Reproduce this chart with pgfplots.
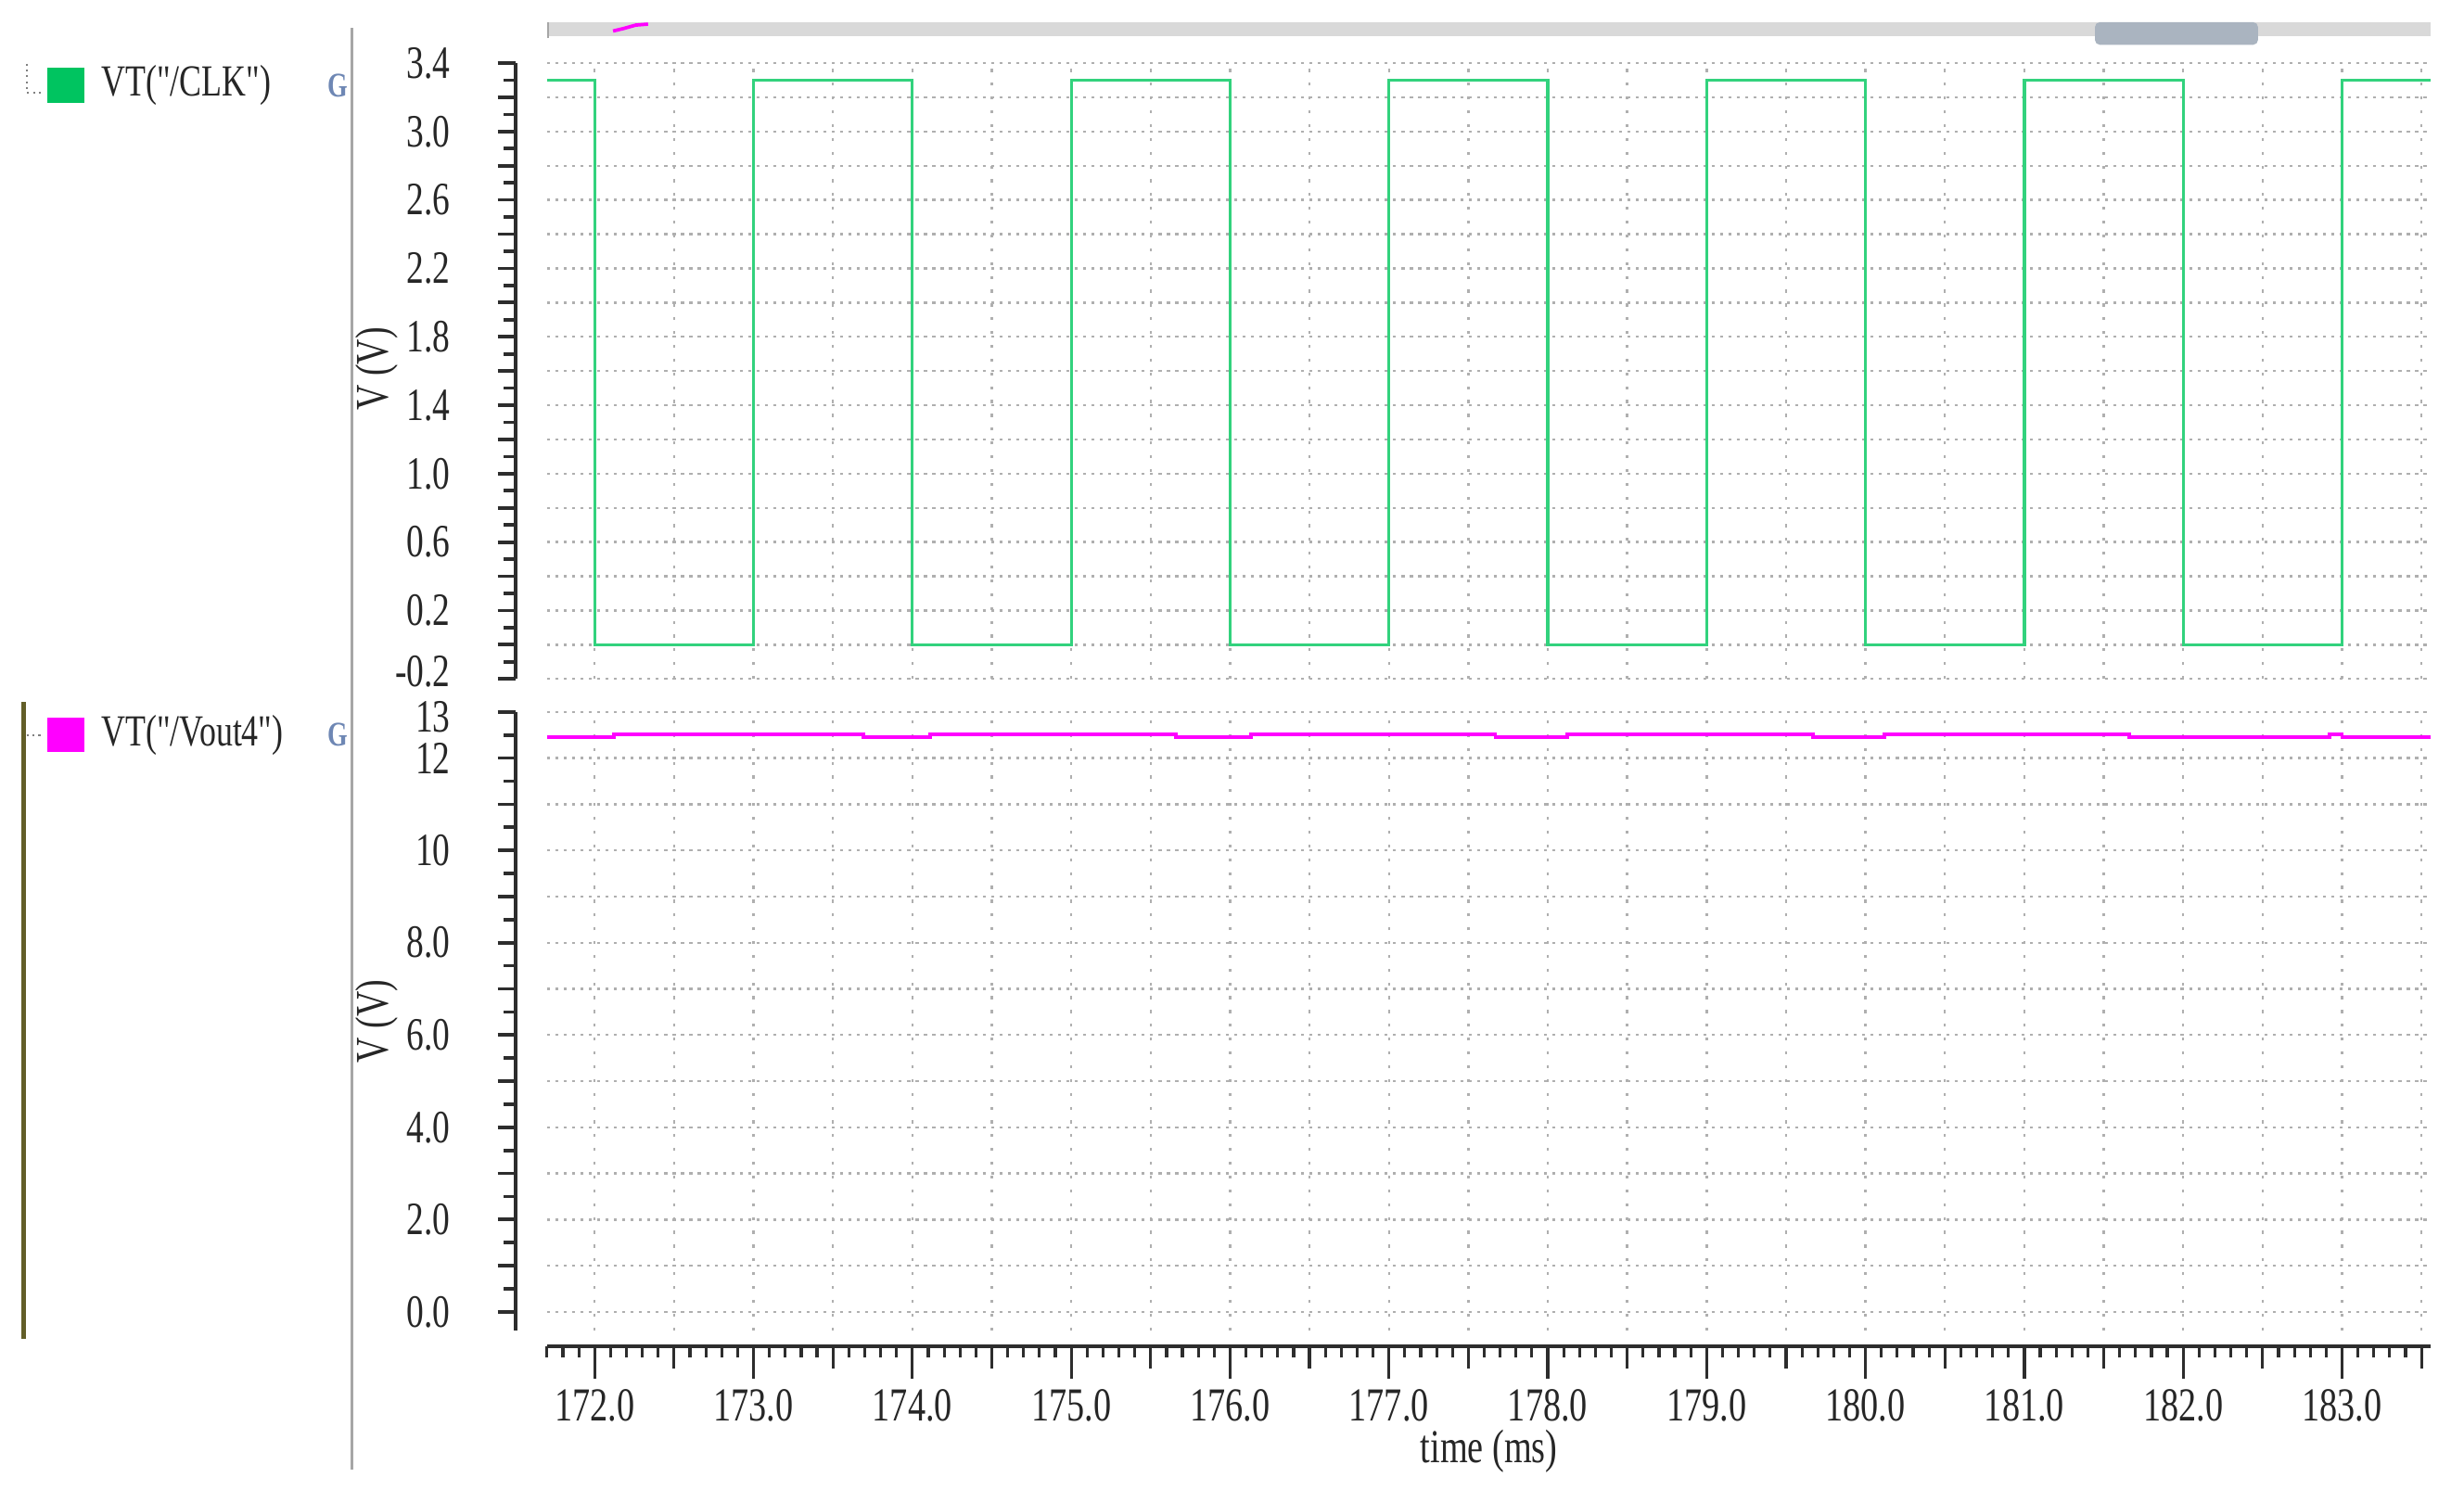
\documentclass[border=0pt]{standalone}
\usepackage{fontspec}
\setmainfont{Liberation Serif}[FakeStretch=0.75, Ligatures=TeXOff]
\usepackage{pgfplots}
\pgfplotsset{compat=1.18}
\definecolor{clkgreen}{RGB}{50,210,125}
\definecolor{clksq}{RGB}{0,196,96}
\definecolor{vmag}{RGB}{255,0,255}
\definecolor{gridgray}{RGB}{175,175,175}
\definecolor{axdark}{RGB}{45,45,45}
\definecolor{handle}{RGB}{170,180,192}
\definecolor{iconblue}{RGB}{110,135,180}
\pgfplotsset{
  dataax/.style={scale only axis, width=382.3pt, xmin=171.70, xmax=183.56,
    axis line style={draw=none}, major tick length=0pt, minor tick length=0pt,
    xticklabels={}, yticklabels={}, grid=major,
    x grid style={gridgray, line width=0.45pt, dash pattern=on 0.6pt off 2.2pt},
    y grid style={gridgray, line width=0.45pt, dash pattern=on 0.6pt off 1.1pt},
    xtick={172,172.5,173,173.5,174,174.5,175,175.5,176,176.5,177,177.5,178,178.5,179,179.5,180,180.5,181,181.5,182,182.5,183,183.5}},
  rulerax/.style={scale only axis, width=1pt, xmin=0, xmax=1,
    axis x line=none, axis y line=left, y axis line style={-, line width=0.7pt, draw=axdark},
    tick align=outside, major tick length=3.6pt, minor tick length=2.4pt,
    tick style={line width=0.7pt, draw=axdark},
    yticklabel style={font=\fontsize{9.4}{11}\selectfont, text=black!85, inner sep=0.6pt, xshift=-8.8pt}},
}
\begin{document}
\begin{tikzpicture}
\useasboundingbox (0,0) rectangle (500pt,302.3pt);

% top data panel
\begin{axis}[dataax, at={(111pt,164.5pt)}, anchor=south west, height=125pt,
  ymin=-0.2, ymax=3.4,
  ytick={-0.2,0,0.2,0.4,0.6,0.8,1.0,1.2,1.4,1.6,1.8,2.0,2.2,2.4,2.6,2.8,3.0,3.2,3.4}]
\addplot[clkgreen, line width=0.6pt] coordinates {
(171.70,3.3) (172,3.3) (172,0) (173,0) (173,3.3) (174,3.3) (174,0) (175,0) (175,3.3)
(176,3.3) (176,0) (177,0) (177,3.3) (178,3.3) (178,0) (179,0) (179,3.3) (180,3.3)
(180,0) (181,0) (181,3.3) (182,3.3) (182,0) (183,0) (183,3.3) (183.56,3.3)};
\end{axis}

% top ruler
\begin{axis}[rulerax, at={(104.6pt,164.5pt)}, anchor=south west, height=125pt,
  ymin=-0.2, ymax=3.4,
  ytick={-0.2,0,0.2,0.4,0.6,0.8,1.0,1.2,1.4,1.6,1.8,2.0,2.2,2.4,2.6,2.8,3.0,3.2,3.4},
  yticklabels={\raisebox{1.5pt}[\height][0pt]{-0.2},,0.2,,0.6,,1.0,,1.4,,1.8,,2.2,,2.6,,3.0,,3.4},
  minor ytick={-0.1,0.1,0.3,0.5,0.7,0.9,1.1,1.3,1.5,1.7,1.9,2.1,2.3,2.5,2.7,2.9,3.1,3.3}]
\end{axis}

% bottom data panel
\begin{axis}[dataax, at={(111pt,32.3pt)}, anchor=south west, height=125.5pt,
  ymin=-0.4, ymax=13, ytick={0,1,2,3,4,5,6,7,8,9,10,11,12,13}]
\addplot[vmag, line width=0.75pt] coordinates {
(171.70,12.46) (172.12,12.46) (172.12,12.52) (173.69,12.52) (173.69,12.46)
(174.11,12.46) (174.11,12.52) (175.66,12.52) (175.66,12.46) (176.13,12.46)
(176.13,12.52) (177.67,12.52) (177.67,12.46) (178.12,12.46) (178.12,12.52)
(179.67,12.52) (179.67,12.46) (180.12,12.46) (180.12,12.52) (181.66,12.52)
(181.66,12.46) (182.92,12.46) (182.92,12.52) (183.0,12.52) (183.0,12.46) (183.56,12.46)};
\end{axis}

% bottom ruler
\begin{axis}[rulerax, at={(104.6pt,32.3pt)}, anchor=south west, height=125.5pt,
  ymin=-0.4, ymax=13,
  ytick={0,1,2,3,4,5,6,7,8,9,10,11,12,13},
  yticklabels={0.0,,2.0,,4.0,,6.0,,8.0,,10,,12,\raisebox{-1pt}[\height][0pt]{13}},
  minor ytick={0.5,1.5,2.5,3.5,4.5,5.5,6.5,7.5,8.5,9.5,10.5,11.5,12.5}]
\end{axis}

% x ruler
\begin{axis}[scale only axis, width=382.3pt, height=1pt, at={(111pt,29pt)}, anchor=south west,
  xmin=171.70, xmax=183.56, ymin=0, ymax=1,
  axis y line=none, axis x line=bottom, x axis line style={-, line width=0.8pt, draw=axdark},
  tick align=outside, major tick length=6.5pt, minor tick length=2.2pt,
  tick style={line width=0.6pt, draw=axdark},
  xtick={172,173,174,175,176,177,178,179,180,181,182,183},
  xticklabels={172.0,173.0,174.0,175.0,176.0,177.0,178.0,179.0,180.0,181.0,182.0,183.0},
  minor xtick={171.7,171.8,...,183.55},
  extra x ticks={172.5,173.5,174.5,175.5,176.5,177.5,178.5,179.5,180.5,181.5,182.5,183.5},
  extra x tick labels={},
  extra x tick style={major tick length=4.5pt},
  xticklabel style={font=\fontsize{9.6}{11}\selectfont, text=black!85, yshift=1.3pt},
  xlabel={time (ms)},
  xlabel style={font=\fontsize{9.6}{11}\selectfont, text=black!85,
    at={(axis description cs:0.5,0)}, anchor=center, yshift=-21.3pt}]
\end{axis}

% y labels
\node[rotate=90, font=\fontsize{9.5}{11}\selectfont, text=black!85] at (76.5pt,227.4pt) {V (V)};
\node[rotate=90, font=\fontsize{9.5}{11}\selectfont, text=black!85] at (76.5pt,95.0pt) {V (V)};

% legend panel decorations
\draw[gray!70, line width=0.6pt] (71.4pt,4.1pt) -- (71.4pt,296.6pt);
\draw[olive!60!black, line width=1pt] (4.8pt,30.6pt) -- (4.8pt,159.8pt);
\draw[gray, line width=0.4pt, dash pattern=on 0.4pt off 0.8pt] (5.4pt,289.4pt) -- (5.4pt,283.5pt) -- (8.9pt,283.5pt);
\draw[gray, line width=0.4pt, dash pattern=on 0.4pt off 0.8pt] (5.4pt,153.1pt) -- (8.9pt,153.1pt);
\fill[clksq] (9.6pt,281.5pt) rectangle (17.2pt,288.5pt);
\node[anchor=west, inner sep=0pt, font=\fontsize{9}{11}\selectfont, text=black!85] at (20.4pt,285pt) {VT("/CLK")};
\fill[vmag] (9.6pt,149.6pt) rectangle (17.2pt,156.6pt);
\node[anchor=west, inner sep=0pt, font=\fontsize{9}{11}\selectfont, text=black!85] at (20.4pt,153.1pt) {VT("/Vout4")};
\node[text=iconblue, font=\fontsize{7}{7}\selectfont\bfseries, inner sep=0pt] at (68.6pt,285pt) {G};
\node[text=iconblue, font=\fontsize{7}{7}\selectfont\bfseries, inner sep=0pt] at (68.6pt,153.1pt) {G};

% scrollbar
\fill[gray!30] (111pt,295pt) rectangle (493.3pt,297.8pt);
\draw[gray!70, line width=0.5pt] (111.2pt,294.6pt) -- (111.2pt,297.8pt);
\fill[handle, rounded corners=1pt] (425.1pt,293.2pt) rectangle (458.2pt,297.8pt);
\draw[vmag, line width=0.7pt] (124.4pt,296.0pt) -- (126.5pt,296.5pt) -- (129pt,297.2pt) -- (131.5pt,297.4pt);
\end{tikzpicture}
\end{document}
